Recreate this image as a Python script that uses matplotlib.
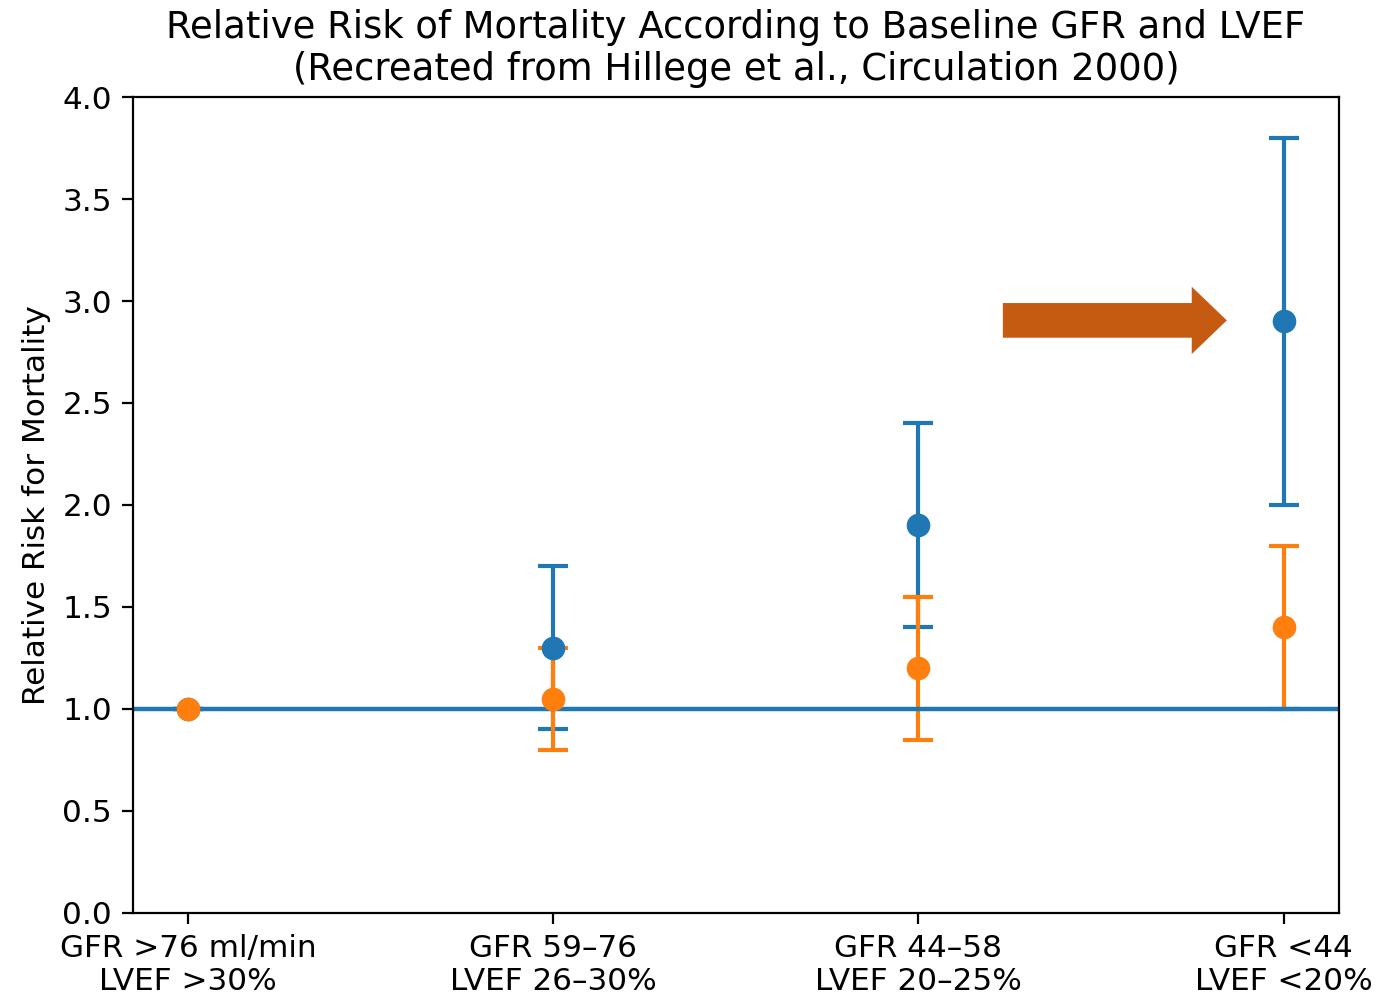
import matplotlib
matplotlib.use("Agg")
import matplotlib.pyplot as plt
from matplotlib.patches import FancyArrow

# categories (GFR / LVEF strata)
labels = ["GFR >76 ml/min\nLVEF >30%", "GFR 59\u201376\nLVEF 26\u201330%",
          "GFR 44\u201358\nLVEF 20\u201325%", "GFR <44\nLVEF <20%"]
x_pos = [0, 1, 2, 3]

# GFR relative risk with 95% CI
gfr_rr = [1.0, 1.3, 1.9, 2.9]
gfr_lo = [1.0, 0.9, 1.4, 2.0]
gfr_hi = [1.0, 1.7, 2.4, 3.8]

# LVEF relative risk with 95% CI
lvef_rr = [1.0, 1.05, 1.2, 1.4]
lvef_lo = [1.0, 0.8, 0.85, 1.0]
lvef_hi = [1.0, 1.3, 1.55, 1.8]

fig = plt.figure(figsize=(6.9, 5), dpi=200)
ax = fig.add_axes([0.0964, 0.087, 0.8736, 0.816])

gfr_err = [[r - l for r, l in zip(gfr_rr, gfr_lo)], [h - r for r, h in zip(gfr_rr, gfr_hi)]]
lvef_err = [[r - l for r, l in zip(lvef_rr, lvef_lo)], [h - r for r, h in zip(lvef_rr, lvef_hi)]]

# error bars first, then the reference line over them, then the points
ax.errorbar(x_pos, gfr_rr, yerr=gfr_err, fmt="none", ecolor="C0", capsize=5.5, lw=1.5, capthick=1.5, zorder=2)
ax.errorbar(x_pos, lvef_rr, yerr=lvef_err, fmt="none", ecolor="C1", capsize=5.5, lw=1.5, capthick=1.5, zorder=2.1)
ax.axhline(1.0, color="C0", lw=1.6, zorder=2.5)
ax.plot(x_pos, gfr_rr, "o", color="C0", ms=7.5, zorder=3)
ax.plot(x_pos, lvef_rr, "o", color="C1", ms=7.5, zorder=3.1)

# highlight arrow pointing at the worst GFR group
ax.add_patch(FancyArrow(2.231, 2.905, 0.613, 0, width=0.17, head_width=0.33,
                        head_length=0.096, length_includes_head=True,
                        color="#C55A11", lw=0, zorder=4))

ax.set_xlim(-0.15, 3.15)
ax.set_ylim(0, 4.0)
ax.set_xticks(x_pos)
ax.set_xticklabels(labels)
ax.tick_params(labelsize=11.2, length=4)
ax.set_ylabel("Relative Risk for Mortality", fontsize=11.2)
ax.set_title("Relative Risk of Mortality According to Baseline GFR and LVEF\n(Recreated from Hillege et al., Circulation 2000)",
             fontsize=13.3, pad=6)

plt.savefig("out.png")
